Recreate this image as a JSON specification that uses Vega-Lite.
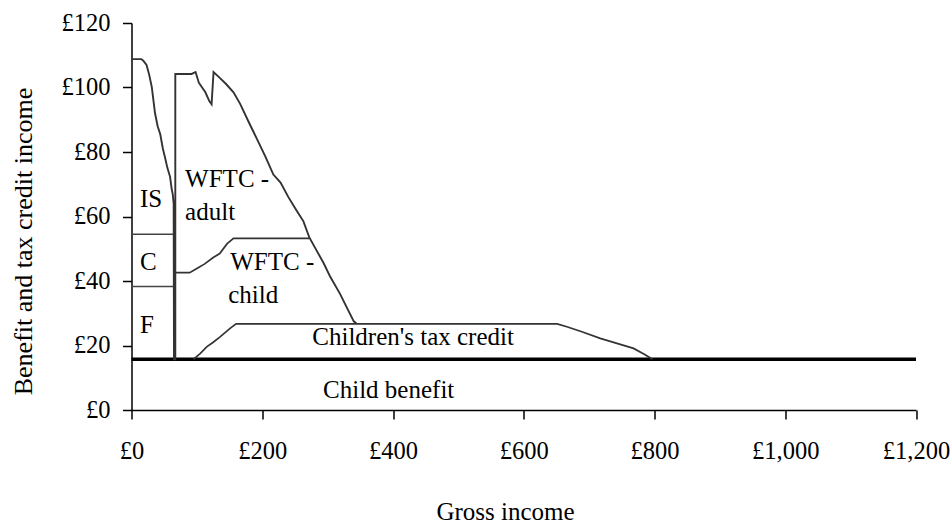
{
  "$schema": "https://vega.github.io/schema/vega-lite/v6.json",
  "width": 784.5,
  "height": 387,
  "autosize": {"type": "none"},
  "padding": {"left": 131.5, "top": 23, "right": 36, "bottom": 115},
  "background": "white",
  "config": {
    "view": {"stroke": null},
    "font": "Liberation Serif",
    "axis": {
      "labelFont": "Liberation Serif",
      "titleFont": "Liberation Serif",
      "labelFontSize": 24.5,
      "titleFontSize": 25,
      "titleFontWeight": "normal",
      "labelColor": "black",
      "titleColor": "black",
      "domainColor": "black",
      "tickColor": "black",
      "domainWidth": 1.5,
      "tickWidth": 1.5,
      "tickSize": 9,
      "grid": false
    }
  },
  "datasets": {
    "outer": [
      {"i": 1, "x": 0, "y": 108.8},
      {"i": 2, "x": 15, "y": 108.8},
      {"i": 3, "x": 18, "y": 108.3},
      {"i": 4, "x": 23, "y": 107},
      {"i": 5, "x": 27, "y": 104},
      {"i": 6, "x": 31, "y": 100.2},
      {"i": 7, "x": 36, "y": 92},
      {"i": 8, "x": 40, "y": 88},
      {"i": 9, "x": 44, "y": 85.5},
      {"i": 10, "x": 48, "y": 81},
      {"i": 11, "x": 51, "y": 78.5},
      {"i": 12, "x": 55, "y": 75},
      {"i": 13, "x": 59, "y": 72.3},
      {"i": 14, "x": 61.5, "y": 68.5},
      {"i": 15, "x": 63, "y": 67},
      {"i": 16, "x": 64.5, "y": 64},
      {"i": 17, "x": 65, "y": 15.75},
      {"i": 18, "x": 67, "y": 15.75},
      {"i": 19, "x": 67, "y": 104.2},
      {"i": 20, "x": 92, "y": 104.2},
      {"i": 21, "x": 98, "y": 104.8},
      {"i": 22, "x": 103, "y": 101.5},
      {"i": 23, "x": 108, "y": 100},
      {"i": 24, "x": 113, "y": 98.5},
      {"i": 25, "x": 119, "y": 95.8},
      {"i": 26, "x": 122.5, "y": 94.8},
      {"i": 27, "x": 125.5, "y": 104.8},
      {"i": 28, "x": 135, "y": 103},
      {"i": 29, "x": 145, "y": 101},
      {"i": 30, "x": 156, "y": 98.5},
      {"i": 31, "x": 166, "y": 95},
      {"i": 32, "x": 180, "y": 89},
      {"i": 33, "x": 192, "y": 84},
      {"i": 34, "x": 205, "y": 78.5},
      {"i": 35, "x": 217, "y": 73},
      {"i": 36, "x": 228, "y": 70.5},
      {"i": 37, "x": 240, "y": 66},
      {"i": 38, "x": 252, "y": 62},
      {"i": 39, "x": 263, "y": 58.5},
      {"i": 40, "x": 272, "y": 53.5},
      {"i": 41, "x": 283, "y": 49.5},
      {"i": 42, "x": 294, "y": 45.5},
      {"i": 43, "x": 304, "y": 41.3},
      {"i": 44, "x": 319, "y": 36},
      {"i": 45, "x": 330, "y": 31.5},
      {"i": 46, "x": 340, "y": 27.5},
      {"i": 47, "x": 344, "y": 26.8}
    ],
    "wftcChild": [
      {"x": 67, "y": 42.6},
      {"x": 89, "y": 42.6},
      {"x": 100, "y": 43.9},
      {"x": 112, "y": 45.3},
      {"x": 125, "y": 47.3},
      {"x": 135, "y": 48.5},
      {"x": 146, "y": 51.5},
      {"x": 156, "y": 53.2},
      {"x": 272, "y": 53.2}
    ],
    "ctc": [
      {"x": 95, "y": 15.75},
      {"x": 105, "y": 17.5},
      {"x": 115, "y": 19.6},
      {"x": 125, "y": 21},
      {"x": 135.5, "y": 22.7},
      {"x": 150.8, "y": 25.3},
      {"x": 160, "y": 26.7},
      {"x": 651, "y": 26.7},
      {"x": 666, "y": 25.8},
      {"x": 690, "y": 24.2},
      {"x": 717, "y": 22.2},
      {"x": 740, "y": 20.8},
      {"x": 768, "y": 19.1},
      {"x": 785, "y": 17.2},
      {"x": 797, "y": 15.75}
    ],
    "bands": [
      {"band": "IS/C", "x": 0, "y": 54.5},
      {"band": "IS/C", "x": 64.5, "y": 54.5},
      {"band": "C/F", "x": 0, "y": 38.3},
      {"band": "C/F", "x": 64.5, "y": 38.3}
    ],
    "childBenefit": [
      {"x": 0, "y": 15.75},
      {"x": 1200, "y": 15.75}
    ],
    "labels": [
      {"x": 13, "y": 62.9, "text": "IS"},
      {"x": 13, "y": 43.4, "text": "C"},
      {"x": 13, "y": 23.9, "text": "F"},
      {"x": 82, "y": 69.1, "text": "WFTC -"},
      {"x": 82, "y": 58.9, "text": "adult"},
      {"x": 151, "y": 43.4, "text": "WFTC -"},
      {"x": 148, "y": 33.2, "text": "child"},
      {"x": 276.5, "y": 20.2, "text": "Children's tax credit"},
      {"x": 293, "y": 3.7, "text": "Child benefit"}
    ]
  },
  "layer": [
    {
      "data": {"name": "childBenefit"},
      "mark": {"type": "line", "color": "black", "strokeWidth": 3.5},
      "encoding": {
        "x": {
          "field": "x", "type": "quantitative",
          "scale": {"domain": [0, 1200], "nice": false, "zero": false},
          "axis": {
            "title": "Gross income",
            "values": [0, 200, 400, 600, 800, 1000, 1200],
            "labelExpr": "'£' + format(datum.value, ',')",
            "labelBaseline": "alphabetic",
            "labelPadding": 39,
            "labelFlush": false,
            "labelOverlap": false,
            "titleX": 373.5,
            "titleY": 109,
            "titleAlign": "center",
            "titleBaseline": "alphabetic"
          }
        },
        "y": {
          "field": "y", "type": "quantitative",
          "scale": {"domain": [0, 120], "nice": false},
          "axis": {
            "title": "Benefit and tax credit income",
            "titleFontSize": 26,
            "values": [0, 20, 40, 60, 80, 100, 120],
            "labelExpr": "'£' + datum.value",
            "labelPadding": 12.5,
            "labelBaseline": "middle",
            "labelFlush": false,
            "labelOverlap": false,
            "titleX": -108.5,
            "titleY": 218,
            "titleAngle": -90,
            "titleAlign": "center",
            "titleBaseline": "middle",
            "titleLimit": 400
          }
        }
      }
    },
    {
      "data": {"name": "bands"},
      "mark": {"type": "line", "color": "#444444", "strokeWidth": 1.3},
      "encoding": {
        "x": {"field": "x", "type": "quantitative"},
        "y": {"field": "y", "type": "quantitative"},
        "detail": {"field": "band"}
      }
    },
    {
      "data": {"name": "ctc"},
      "mark": {"type": "line", "color": "#333333", "strokeWidth": 1.7},
      "encoding": {
        "x": {"field": "x", "type": "quantitative"},
        "y": {"field": "y", "type": "quantitative"}
      }
    },
    {
      "data": {"name": "wftcChild"},
      "mark": {"type": "line", "color": "#333333", "strokeWidth": 1.7},
      "encoding": {
        "x": {"field": "x", "type": "quantitative"},
        "y": {"field": "y", "type": "quantitative"}
      }
    },
    {
      "data": {"name": "outer"},
      "mark": {"type": "line", "color": "#333333", "strokeWidth": 1.9},
      "encoding": {
        "x": {"field": "x", "type": "quantitative"},
        "y": {"field": "y", "type": "quantitative"},
        "order": {"field": "i", "type": "quantitative"}
      }
    },
    {
      "data": {"name": "labels"},
      "mark": {"type": "text", "font": "Liberation Serif", "fontSize": 25, "align": "left", "baseline": "alphabetic", "color": "black"},
      "encoding": {
        "x": {"field": "x", "type": "quantitative"},
        "y": {"field": "y", "type": "quantitative"},
        "text": {"field": "text"}
      }
    }
  ]
}
